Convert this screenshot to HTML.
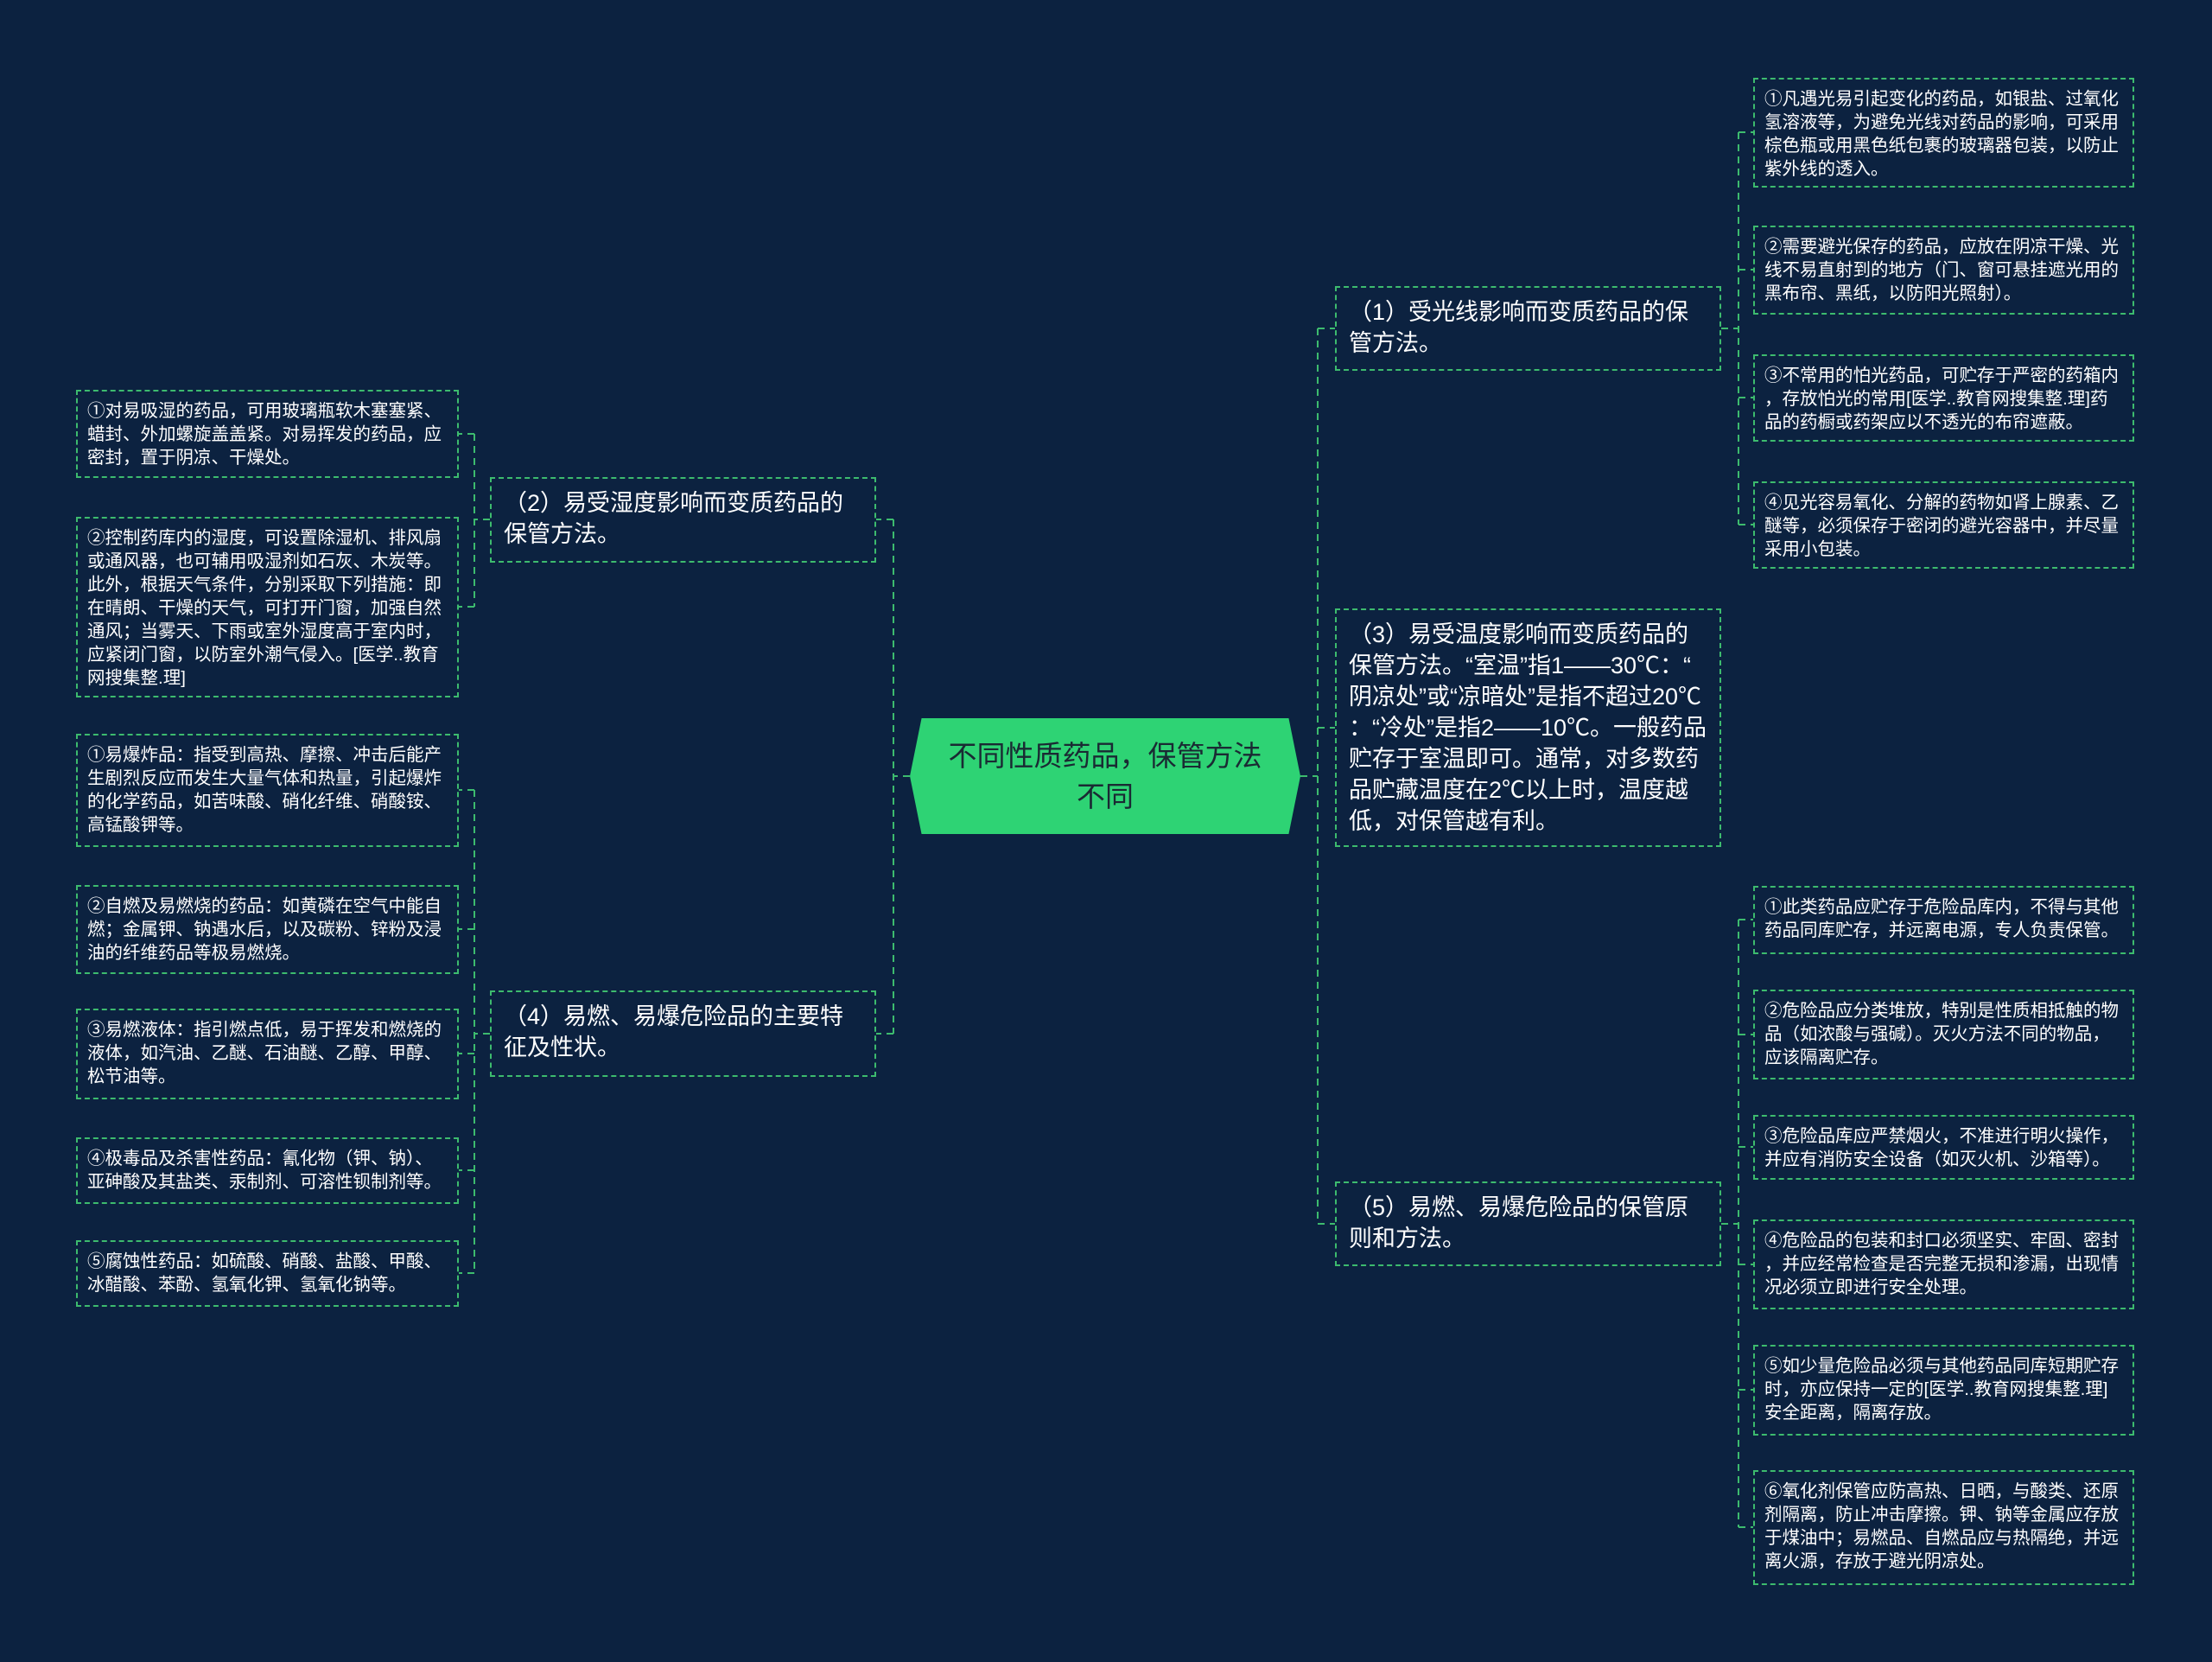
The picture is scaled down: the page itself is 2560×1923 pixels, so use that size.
<!DOCTYPE html>
<html><head><meta charset="utf-8"><style>
html,body{margin:0;padding:0;}
body{width:2560px;height:1923px;background:#0c2240;position:relative;overflow:hidden;font-family:"Liberation Sans","Noto Sans CJK SC",sans-serif;color:#fff;}
.n{position:absolute;box-sizing:border-box;border:2px dashed #3dbb6e;word-break:break-all;line-break:anywhere;}
.l1{font-size:27px;line-height:36px;padding:10px 14px;}
.lf{font-size:20.5px;line-height:27px;padding:9px 11px;}
.c{position:absolute;left:1053px;top:831px;width:452px;height:134px;background:#2ed374;clip-path:polygon(3% 0,97% 0,100% 50%,97% 100%,3% 100%,0 50%);color:#1a2a33;font-size:33px;line-height:47px;display:flex;align-items:center;justify-content:center;text-align:center;padding:0 30px;box-sizing:border-box;}
svg{position:absolute;left:0;top:0;}
</style></head><body>
<svg width="2560" height="1923" fill="none" stroke="#3dbb6e" stroke-width="2" stroke-dasharray="8,6">
<path d="M1505 898H1525M1525 380V1416M1525 380H1545M1525 842H1545M1525 1416H1545"/>
<path d="M1053 898H1034M1034 601V1196M1034 601H1014M1034 1196H1014"/>
<path d="M1992 380H2012M2012 153V607M2012 153H2029M2012 312H2029M2012 460H2029M2012 607H2029"/>
<path d="M1992 1416H2012M2012 1064V1767M2012 1064H2029M2012 1197H2029M2012 1327H2029M2012 1463H2029M2012 1608H2029M2012 1767H2029"/>
<path d="M567 601H549M549 502V702M549 502H531M549 702H531"/>
<path d="M567 1196H549M549 914V1473M549 914H531M549 1075H531M549 1219H531M549 1354H531M549 1473H531"/>
</svg>
<div class="c">不同性质药品，保管方法不同</div>

<div class="n l1" style="left:1545px;top:331px;width:447px;height:98px;">（1）受光线影响而变质药品的保管方法。</div>
<div class="n l1" style="left:1545px;top:704px;width:447px;height:276px;">（3）易受温度影响而变质药品的保管方法。“室温”指1——30℃：“阴凉处”或“凉暗处”是指不超过20℃：“冷处”是指2——10℃。一般药品贮存于室温即可。通常，对多数药品贮藏温度在2℃以上时，温度越低，对保管越有利。</div>
<div class="n l1" style="left:1545px;top:1367px;width:447px;height:98px;">（5）易燃、易爆危险品的保管原则和方法。</div>
<div class="n l1" style="left:567px;top:552px;width:447px;height:99px;">（2）易受湿度影响而变质药品的保管方法。</div>
<div class="n l1" style="left:567px;top:1146px;width:447px;height:100px;">（4）易燃、易爆危险品的主要特征及性状。</div>

<div class="n lf" style="left:2029px;top:90px;width:441px;height:127px;">①凡遇光易引起变化的药品，如银盐、过氧化氢溶液等，为避免光线对药品的影响，可采用棕色瓶或用黑色纸包裹的玻璃器包装，以防止紫外线的透入。</div>
<div class="n lf" style="left:2029px;top:261px;width:441px;height:103px;">②需要避光保存的药品，应放在阴凉干燥、光线不易直射到的地方（门、窗可悬挂遮光用的黑布帘、黑纸，以防阳光照射）。</div>
<div class="n lf" style="left:2029px;top:410px;width:441px;height:101px;">③不常用的怕光药品，可贮存于严密的药箱内，存放怕光的常用[医学..教育网搜集整.理]药品的药橱或药架应以不透光的布帘遮蔽。</div>
<div class="n lf" style="left:2029px;top:557px;width:441px;height:101px;">④见光容易氧化、分解的药物如肾上腺素、乙醚等，必须保存于密闭的避光容器中，并尽量采用小包装。</div>

<div class="n lf" style="left:2029px;top:1025px;width:441px;height:79px;">①此类药品应贮存于危险品库内，不得与其他药品同库贮存，并远离电源，专人负责保管。</div>
<div class="n lf" style="left:2029px;top:1145px;width:441px;height:104px;">②危险品应分类堆放，特别是性质相抵触的物品（如浓酸与强碱）。灭火方法不同的物品，应该隔离贮存。</div>
<div class="n lf" style="left:2029px;top:1290px;width:441px;height:75px;">③危险品库应严禁烟火，不准进行明火操作，并应有消防安全设备（如灭火机、沙箱等）。</div>
<div class="n lf" style="left:2029px;top:1411px;width:441px;height:104px;">④危险品的包装和封口必须坚实、牢固、密封，并应经常检查是否完整无损和渗漏，出现情况必须立即进行安全处理。</div>
<div class="n lf" style="left:2029px;top:1556px;width:441px;height:105px;">⑤如少量危险品必须与其他药品同库短期贮存时，亦应保持一定的[医学..教育网搜集整.理]安全距离，隔离存放。</div>
<div class="n lf" style="left:2029px;top:1701px;width:441px;height:133px;">⑥氧化剂保管应防高热、日晒，与酸类、还原剂隔离，防止冲击摩擦。钾、钠等金属应存放于煤油中；易燃品、自燃品应与热隔绝，并远离火源，存放于避光阴凉处。</div>

<div class="n lf" style="left:88px;top:451px;width:443px;height:102px;">①对易吸湿的药品，可用玻璃瓶软木塞塞紧、蜡封、外加螺旋盖盖紧。对易挥发的药品，应密封，置于阴凉、干燥处。</div>
<div class="n lf" style="left:88px;top:598px;width:443px;height:209px;">②控制药库内的湿度，可设置除湿机、排风扇或通风器，也可辅用吸湿剂如石灰、木炭等。此外，根据天气条件，分别采取下列措施：即在晴朗、干燥的天气，可打开门窗，加强自然通风；当雾天、下雨或室外湿度高于室内时，应紧闭门窗，以防室外潮气侵入。[医学..教育网搜集整.理]</div>
<div class="n lf" style="left:88px;top:849px;width:443px;height:131px;">①易爆炸品：指受到高热、摩擦、冲击后能产生剧烈反应而发生大量气体和热量，引起爆炸的化学药品，如苦味酸、硝化纤维、硝酸铵、高锰酸钾等。</div>
<div class="n lf" style="left:88px;top:1024px;width:443px;height:103px;">②自燃及易燃烧的药品：如黄磷在空气中能自燃；金属钾、钠遇水后，以及碳粉、锌粉及浸油的纤维药品等极易燃烧。</div>
<div class="n lf" style="left:88px;top:1167px;width:443px;height:105px;">③易燃液体：指引燃点低，易于挥发和燃烧的液体，如汽油、乙醚、石油醚、乙醇、甲醇、松节油等。</div>
<div class="n lf" style="left:88px;top:1316px;width:443px;height:77px;">④极毒品及杀害性药品：氰化物（钾、钠）、亚砷酸及其盐类、汞制剂、可溶性钡制剂等。</div>
<div class="n lf" style="left:88px;top:1435px;width:443px;height:77px;">⑤腐蚀性药品：如硫酸、硝酸、盐酸、甲酸、冰醋酸、苯酚、氢氧化钾、氢氧化钠等。</div>
</body></html>
